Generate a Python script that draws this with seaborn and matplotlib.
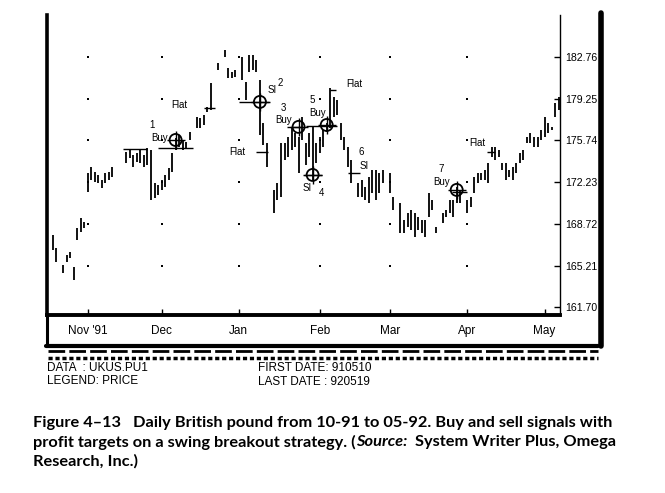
import numpy as np
import pandas as pd
import matplotlib
matplotlib.use("Agg")
import matplotlib.pyplot as plt
import seaborn as sns
from matplotlib import font_manager
from matplotlib.lines import Line2D

# ---------------- data (trading-session number since first bar) ----------------
session = [1, 2, 4, 5, 6, 7, 8, 9, 10, 11, 12, 13, 14, 15, 16, 17, 18,
           22, 23, 24, 25, 26, 27, 28, 29, 30, 31, 32, 33, 34, 35, 36, 37, 38, 39, 40,
           42, 43, 44, 45, 46, 48, 50, 51, 52, 53, 55, 56, 57, 58, 59, 60, 61, 62,
           64, 65, 66, 67, 68, 69, 70, 71, 72, 73, 74, 75, 76, 77, 78, 79, 80, 81, 82,
           83, 84, 85, 86, 88, 89, 90, 91, 92, 93, 94, 95, 97, 98, 100, 101, 102, 103,
           104, 105, 106, 107, 108, 109, 110, 112, 113, 114, 115, 116, 117, 119, 120,
           121, 122, 123, 124, 125, 126, 127, 128, 129, 130, 131, 132, 133, 134, 135,
           136, 137, 138, 139, 140, 141, 142, 143, 144, 145]
high = [167.79, 166.69, 165.26, 166.10, 166.36, 165.09, 168.37, 169.22, 168.88, 173.00,
        173.51, 173.08, 172.83, 172.41, 173.00, 173.08, 173.51,
        174.77, 174.93, 174.51, 174.68, 174.93, 174.51, 175.10, 174.93, 172.16, 171.99,
        172.41, 172.83, 173.42, 174.68, 175.94, 176.20, 175.78, 175.61, 176.45,
        177.71, 177.63, 177.88, 178.55, 180.57, 182.25, 183.35, 181.83, 181.49, 181.66,
        182.76, 180.65, 182.92, 182.92, 182.50, 180.82, 177.21, 175.52,
        171.57, 172.16, 175.52, 175.52, 176.03, 176.78, 176.36, 176.03, 177.71, 175.52,
        176.36, 176.87, 175.52, 176.03, 176.62, 177.21, 180.15, 179.39, 179.14,
        177.21, 176.03, 175.19, 174.09, 172.16, 172.41, 171.82, 172.66, 173.25, 173.25,
        173.00, 173.25, 173.00, 170.98, 170.48, 169.05, 169.64, 169.89,
        169.64, 169.30, 169.05, 169.05, 171.32, 170.73, 168.46, 169.64, 169.89, 170.73,
        170.73, 171.82, 171.57, 170.73, 170.98,
        172.66, 173.00, 173.00, 173.25, 173.84, 175.19, 175.19, 174.93, 173.84, 173.84,
        173.25, 173.51, 173.84, 174.68, 174.93,
        176.03, 176.36, 176.03, 176.03, 176.62, 177.71, 177.21, 176.87, 178.88, 179.39]
low = [166.52, 165.52, 164.59, 165.52, 165.85, 164.00, 167.37, 168.04, 168.37, 171.40,
       172.41, 172.24, 172.16, 171.74, 172.16, 172.41, 172.66,
       173.84, 174.26, 173.51, 173.92, 173.84, 173.51, 173.67, 170.73, 170.90, 171.15,
       171.57, 171.82, 172.41, 173.08, 174.93, 175.19, 174.93, 175.10, 175.78,
       176.79, 176.79, 177.04, 178.13, 178.30, 181.66, 182.76, 180.99, 180.99, 181.07,
       180.82, 179.14, 181.49, 181.66, 181.49, 176.20, 175.35, 173.51,
       169.64, 170.73, 170.98, 174.09, 174.35, 174.93, 175.19, 173.00, 175.78, 173.67,
       174.35, 172.41, 173.84, 174.68, 175.19, 176.45, 176.78, 177.71, 177.88,
       175.78, 174.93, 173.51, 172.16, 170.98, 170.98, 170.73, 170.48, 171.32, 170.73,
       171.32, 172.16, 171.32, 169.89, 167.95, 167.95, 168.46, 168.21,
       167.62, 168.21, 167.95, 167.62, 169.30, 169.89, 167.95, 168.79, 169.30, 169.64,
       169.30, 170.48, 170.48, 169.64, 170.14,
       171.32, 172.16, 172.41, 172.41, 172.16, 174.35, 174.09, 174.35, 173.25, 172.41,
       172.66, 172.41, 173.00, 173.84, 174.09,
       175.52, 175.52, 175.19, 175.19, 175.78, 176.03, 176.36, 176.62, 177.71, 178.30]

month_session = [11, 32, 54, 77, 97, 119, 141]
month_labels = ["Nov '91", "Dec", "Jan", "Feb", "Mar", "Apr", "May"]
price_ticks = [161.70, 165.21, 168.72, 172.23, 175.74, 179.25, 182.76]

# entry / exit signals (circled)
signal_session = [36, 60, 71, 75, 79, 116]
signal_price = [175.77, 178.97, 176.87, 172.83, 177.03, 171.57]

# horizontal signal levels
level_start = [21, 31, 44, 54, 59, 67.6, 72.2, 73, 80, 85, 114.8, 124.6]
level_end = [28, 41, 47.2, 63, 62.2, 72.2, 77.8, 82, 81.6, 88.4, 118.8, 127]
level_price = [175.05, 175.10, 178.47, 178.97, 174.76, 176.87, 172.83, 176.95,
               179.98, 173.00, 171.40, 174.76]

# annotation texts
note_text = ["1", "Buy", "Flat", "SI", "2", "Flat", "3", "Buy", "SI", "4",
             "5", "Buy", "Flat", "6", "SI", "7", "Buy", "Flat"]
note_session = [29.3, 31.5, 37.0, 63.6, 65.8, 53.5, 66.8, 66.8, 73.3, 77.6,
                75.0, 76.4, 87.0, 88.9, 89.6, 111.6, 111.6, 122.0]
note_price = [177.04, 175.94, 178.70, 179.98, 180.56, 174.76, 178.47, 177.46, 171.74,
              171.32, 179.14, 178.05, 180.48, 174.76, 173.59, 173.33, 172.24, 175.52]

# ---------------- styling ----------------
sns.set_style("white")
plt.rcParams['font.family'] = ['Liberation Sans', 'DejaVu Sans']

avail = {f.name for f in font_manager.fontManager.ttflist}
if 'Liberation Sans Narrow' in avail:
    NARROW = ['Liberation Sans Narrow', 'DejaVu Sans']
else:
    NARROW = ['Liberation Sans', 'DejaVu Sans']

W, H = 665, 493
fig = plt.figure(figsize=(W / 100, H / 100), dpi=100)
fig.patch.set_facecolor('white')


def fx(x):
    return x / W


def fy(y):
    return 1 - y / H


ax = fig.add_axes([fx(47), fy(315), (560 - 47) / W, 300 / H])
ax.set_facecolor('white')

df = pd.DataFrame({'session': session, 'high': high, 'low': low})
ax.vlines(df['session'], df['low'], df['high'], color='black', lw=1.3)

# grid dots
gx, gy = np.meshgrid(month_session[:-1], price_ticks[1:])
sns.scatterplot(x=gx.ravel(), y=gy.ravel(), ax=ax, marker='s', s=2.5,
                color='black', linewidth=0, legend=False)

# signal levels
ax.hlines(level_price, level_start, level_end, color='black', lw=1.0)

# signal circles with crosshair
ax.scatter(signal_session, signal_price, s=75, facecolors='none',
           edgecolors='black', linewidths=1.3, zorder=5)
sns.scatterplot(x=signal_session, y=signal_price, ax=ax, marker='+', s=150,
                color='black', linewidth=1.0, legend=False, zorder=6)

for t, xs, yp in zip(note_text, note_session, note_price):
    ax.text(xs, yp, t, fontsize=7, ha='center', va='center', color='black')

ax.set_xlim(-0.6, 145.4)
ax.set_ylim(161.05, 186.28)

ax.set_xticks(month_session)
ax.set_xticklabels(month_labels)
ax.set_yticks(price_ticks)
ax.set_yticklabels([f"{p:.2f}" for p in price_ticks])
ax.yaxis.tick_right()
ax.tick_params(axis='y', direction='in', length=4, width=1, pad=4, labelsize=7.6,
               colors='black', right=True, left=False)
ax.tick_params(axis='x', direction='in', length=4, width=1, pad=7, labelsize=8.5,
               colors='black', bottom=True)
for lab in ax.get_xticklabels() + ax.get_yticklabels():
    lab.set_fontfamily(NARROW)

for s in ['left', 'bottom', 'right', 'top']:
    ax.spines[s].set_color('black')
ax.spines['top'].set_visible(False)
ax.spines['left'].set_linewidth(2.6)
ax.spines['bottom'].set_linewidth(2.8)
ax.spines['right'].set_linewidth(1.0)

# ---------------- window decorations ----------------
def fline(x0, y0, x1, y1, **kw):
    fig.add_artist(Line2D([fx(x0), fx(x1)], [fy(y0), fy(y1)], color='black', **kw))

fline(47, 315, 47, 346, lw=2.2)                 # label box left
fline(46, 346, 598, 346, lw=3.0)                # label box bottom
fline(601, 13, 601, 346, lw=4.0)                # right bar
fline(48, 351, 598, 351, lw=2.0, ls=(0, (6, 1.5)))   # scroll band
fline(48, 358, 598, 358, lw=2.5, ls=(0, (1.2, 0.8))) # scroll band

footer = dict(fontsize=8.5, color='black', va='center', ha='left', family=NARROW)
for txt, x, y in [("DATA  : UKUS.PU1", 47, 368), ("LEGEND: PRICE", 47, 381),
                  ("FIRST DATE: 910510", 258, 368), ("LAST DATE : 920519", 258, 382)]:
    fig.text(fx(x), fy(y), txt, **footer)

# ---------------- caption ----------------
cap = dict(fontsize=11.8, fontweight='bold', color='black', va='center', ha='left',
           family=['Lato', 'DejaVu Sans'])
x0 = fx(33)
fig.text(x0, fy(423), "Figure 4\u201313   Daily British pound from 10-91 to 05-92. Buy and sell signals with", **cap)
r = fig.canvas.get_renderer()
t1 = fig.text(x0, fy(442), "profit targets on a swing breakout strategy. (", **cap)
w1 = t1.get_window_extent(r).width
t2 = fig.text(x0 + w1 / W, fy(442), "Source:", style='italic', **cap)
w2 = t2.get_window_extent(r).width
fig.text(x0 + (w1 + w2) / W, fy(442), "  System Writer Plus, Omega", **cap)
fig.text(x0, fy(461), "Research, Inc.)", **cap)

fig.savefig("out.png", dpi=100, facecolor='white')
